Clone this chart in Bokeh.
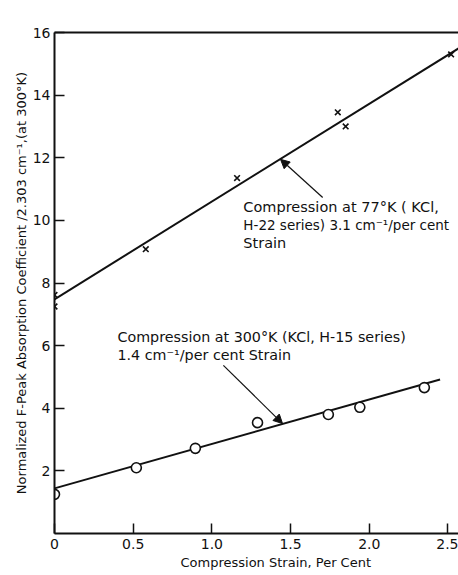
from bokeh.plotting import figure
from bokeh.models import (Range1d, LinearAxis, FixedTicker, Label, Arrow, NormalHead, Title)
from bokeh.embed import file_html
from bokeh.resources import INLINE

# ---- data ----
strain_77 = [0.0, 0.0, 0.58, 1.16, 1.80, 1.85, 2.52]
coef_77 = [7.62, 7.25, 9.08, 11.35, 13.45, 13.0, 15.3]
fit_77_x = [0.0, 2.57]
fit_77_y = [7.48, 15.5]

strain_300 = [0.0, 0.52, 0.895, 1.29, 1.74, 1.94, 2.35]
coef_300 = [1.25, 2.1, 2.72, 3.54, 3.8, 4.03, 4.66]
fit_300_x = [0.0, 2.45]
fit_300_y = [1.44, 4.92]

x_ticks = [0, 0.5, 1.0, 1.5, 2.0, 2.5]
x_tick_labels = ["0", "0.5", "1.0", "1.5", "2.0", "2.5"]
y_ticks = [2, 4, 6, 8, 10, 12, 14, 16]

FONT = "DejaVu Sans"
INK = "#111111"

p = figure(width=458, height=575, x_range=Range1d(0, 2.567), y_range=Range1d(0, 16),
           output_backend="svg", toolbar_location=None, title_location=None,
           x_axis_type=None, y_axis_type=None,
           min_border_left=54, min_border_right=0, min_border_top=32, min_border_bottom=42)
p.outline_line_color = None
p.xgrid.visible = False
p.ygrid.visible = False
p.background_fill_color = "white"
p.border_fill_color = "white"

def style_axis(ax):
    ax.axis_line_color = INK
    ax.axis_line_width = 2
    ax.major_tick_line_color = INK
    ax.major_tick_line_width = 1.5
    ax.major_tick_in = 10
    ax.major_tick_out = 0
    ax.minor_tick_line_color = None
    ax.major_label_text_font = FONT
    ax.major_label_text_font_size = "14px"
    ax.major_label_text_color = INK
    ax.major_label_standoff = 5

xax = LinearAxis(ticker=FixedTicker(ticks=x_ticks),
                 major_label_overrides={t: l for t, l in zip(x_ticks, x_tick_labels)})
style_axis(xax)
p.add_layout(xax, "below")

yax = LinearAxis(ticker=FixedTicker(ticks=y_ticks))
style_axis(yax)
yax.major_label_standoff = 4
p.add_layout(yax, "left")

top = LinearAxis(ticker=FixedTicker(ticks=[]), major_label_text_font_size="0px")
top.axis_line_color = INK
top.axis_line_width = 2
top.major_tick_line_color = None
top.minor_tick_line_color = None
p.add_layout(top, "above")

ytitle = Title(text="Normalized F-Peak Absorption Coefficient /2.303 cm\u207b\u00b9,(at 300\u00b0K)",
               align="center", offset=39, text_font=FONT, text_font_size="13px",
               text_font_style="normal", text_color=INK, standoff=2)
p.add_layout(ytitle, "left")

xtitle = Title(text="Compression Strain, Per Cent", align="left", offset=126,
               text_font=FONT, text_font_size="13px", text_font_style="normal",
               text_color=INK, standoff=2)
p.add_layout(xtitle, "below")

# fit lines
p.line(fit_77_x, fit_77_y, line_color=INK, line_width=2)
p.line(fit_300_x, fit_300_y, line_color=INK, line_width=2)

# points
p.scatter(strain_77, coef_77, marker="x", size=8, line_color=INK, line_width=1.6)
p.scatter(strain_300, coef_300, marker="circle", size=10, line_color=INK,
          line_width=1.6, fill_color="white")

# annotations
upper_lines = ["Compression at  77\u00b0K ( KCl,",
               "H-22 series) 3.1 cm\u207b\u00b9/per cent",
               "Strain"]
upper_sizes = ["14.5px", "13.5px", "14.5px"]
for i, (t, s) in enumerate(zip(upper_lines, upper_sizes)):
    p.add_layout(Label(x=1.20, y=10.42 - i * 0.575, text=t, text_font=FONT,
                       text_font_size=s, text_color=INK, text_baseline="middle"))

lower_lines = ["Compression at  300\u00b0K (KCl, H-15 series)",
               "1.4 cm\u207b\u00b9/per cent Strain"]
for i, t in enumerate(lower_lines):
    p.add_layout(Label(x=0.40, y=6.26 - i * 0.575, text=t, text_font=FONT,
                       text_font_size="14.3px", text_color=INK, text_baseline="middle"))

p.add_layout(Arrow(end=NormalHead(size=9, fill_color=INK, line_color=INK),
                   x_start=1.704, y_start=10.73, x_end=1.436, y_end=11.95,
                   line_color=INK, line_width=1.2))
p.add_layout(Arrow(end=NormalHead(size=9, fill_color=INK, line_color=INK),
                   x_start=1.073, y_start=5.37, x_end=1.449, y_end=3.51,
                   line_color=INK, line_width=1.2))

open("out.html", "w").write(file_html(p, INLINE))
